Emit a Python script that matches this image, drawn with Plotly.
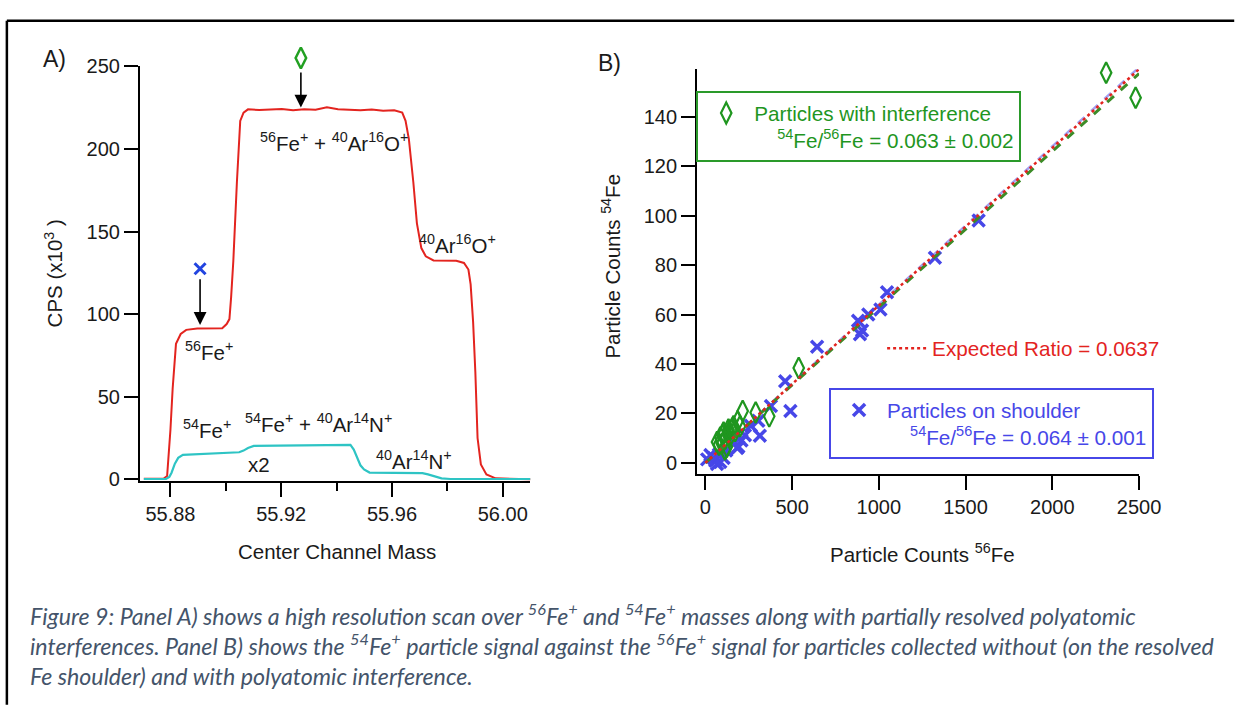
import plotly.graph_objects as go

W, H = 1244, 707
def fx(p): return p / W
def fy(p): return 1 - p / H

# ---------------- Panel A data ----------------
red_mass = [55.8704, 55.8776, 55.8788, 55.8792, 55.8800, 55.8808, 55.8820, 55.8837, 55.8857,
            55.8897, 55.8958, 55.8987, 55.9003, 55.9013, 55.9019, 55.9027, 55.9040, 55.9052,
            55.9064, 55.9080, 55.9121, 55.9161, 55.9202, 55.9243, 55.9283, 55.9324, 55.9365,
            55.9405, 55.9446, 55.9486, 55.9527, 55.9568, 55.9608, 55.9637, 55.9649, 55.9661,
            55.9677, 55.9690, 55.9706, 55.9722, 55.9750, 55.9832, 55.9860, 55.9876, 55.9884,
            55.9893, 55.9901, 55.9909, 55.9921, 55.9941, 55.9974, 56.0100]
red_cps = [0.3, 0.5, 2, 10, 30, 55, 82, 88, 90.5,
           91.3, 91.2, 91.5, 94, 97, 110, 132, 180, 217,
           222, 224, 223.6, 223.8, 224.2, 223.5, 224.0, 223.7, 225.3,
           224, 223.8, 223.4, 223.9, 223.2, 223.4, 222, 217, 206,
           180, 155, 140, 135, 132.5, 132.3, 131, 127, 118,
           95, 65, 25, 9, 3, 0.6, 0]

cyan_mass = [55.8704, 55.8784, 55.8796, 55.8804, 55.8816, 55.8828, 55.8845, 55.8918, 55.8999,
             55.9048, 55.9064, 55.9080, 55.9101, 55.9202, 55.9324, 55.9405, 55.9450, 55.9462,
             55.9474, 55.9486, 55.9499, 55.9519, 55.9608, 55.9710, 55.9730, 55.9750, 55.9779,
             55.9811, 56.0100]
cyan_cps = [0.2, 0.3, 1.5, 4, 9.5, 13, 14.8, 15.3, 15.9,
            16.4, 17.4, 19, 20.2, 20.3, 20.5, 20.8, 20.8, 18,
            13, 8.5, 6, 4.1, 3.9, 3.7, 3.0, 1.9, 0.6,
            0.2, 0.2]

# marker + arrow positions (mass, CPS)
diamond_pos = (55.9271, 255.1)
diamond_arrow = (225.1, 247.2)
cross_pos = (55.8907, 127.5)
cross_arrow = (93.5, 122.0)

# ---------------- Panel B data ----------------
green_x = [2310, 2480, 538, 215, 290, 368, 186, 162, 133, 105, 86, 67, 114, 143, 171, 124, 95,
           200, 78, 101, 137, 113, 155]
green_y = [157.8, 147.7, 38.4, 21.0, 20.4, 18.8, 16.8, 14.8, 13.5, 12.3, 10.3, 8.4, 9.7, 11.0,
           12.9, 6.5, 7.7, 14.8, 7.3, 11.2, 12.5, 5.4, 13.9]
blue_x = [1575, 1323, 1047, 1009, 939, 880, 903, 891, 644, 460, 490, 378, 305, 314, 262, 228,
          208, 190, 162, 105, 86, 67, 57, 48, 29, 10, 78, 120, 184]
blue_y = [98, 83, 69, 62, 60, 57.5, 53.5, 52, 47, 33, 21, 23, 17, 11, 15, 11.2,
          9, 6.5, 7.7, 2, 0.3, -0.5, 0.8, 2, 3.2, 1.4, 3.4, 5, 6]
fit_x = [0, 2500]
expected_y = [0, 159.25]
green_fit_y = [0, 157.5]
blue_fit_y = [0, 160.0]

RED = "#E3241F"
CYAN = "#2EC4C4"
GREEN = "#1F961F"
BLUE = "#4747E8"
FONT = "Liberation Sans, Arial, sans-serif"
TXT = "#1a1a1a"

# panel A geometry (pixels)
A_TOP, A_BOT = 57, 484
A_YMIN, A_YMAX = -1.2, 250
a_scale = (A_BOT - A_TOP) / (A_YMAX - A_YMIN)
OV_TOP = 25
ov_max = A_YMIN + (A_BOT - OV_TOP) / a_scale

fig = go.Figure()

fig.add_trace(go.Scatter(x=red_mass, y=red_cps, mode="lines", line=dict(color=RED, width=2),
                         showlegend=False, xaxis="x", yaxis="y"))
fig.add_trace(go.Scatter(x=cyan_mass, y=cyan_cps, mode="lines", line=dict(color=CYAN, width=2.2),
                         showlegend=False, xaxis="x", yaxis="y"))
fig.add_trace(go.Scatter(x=[cross_pos[0]], y=[cross_pos[1]], mode="markers",
                         marker=dict(symbol="x-thin", size=11, color="#2244E0",
                                     line=dict(width=3, color="#2244E0")),
                         cliponaxis=False, showlegend=False, xaxis="x", yaxis="y"))
fig.add_trace(go.Scatter(x=[diamond_pos[0]], y=[diamond_pos[1]], mode="markers",
                         marker=dict(symbol="diamond-tall-open", size=15, color="#22A022",
                                     line=dict(width=2.5, color="#22A022")),
                         cliponaxis=False, showlegend=False, xaxis="x", yaxis="y3"))

# Panel B
fig.add_trace(go.Scatter(x=blue_x, y=blue_y, mode="markers",
                         name="Particles on shoulder<br>" + "\u00a0" * 4 +
                              "<sup>54</sup>Fe/<sup>56</sup>Fe = 0.064 ± 0.001",
                         marker=dict(symbol="x-thin", size=12, color=BLUE, line=dict(width=3.5, color=BLUE)),
                         cliponaxis=False, legend="legend3", xaxis="x2", yaxis="y2"))
fig.add_trace(go.Scatter(x=green_x, y=green_y, mode="markers",
                         name="Particles with interference<br>" + "\u00a0" * 4 +
                              "<sup>54</sup>Fe/<sup>56</sup>Fe = 0.063 ± 0.002",
                         marker=dict(symbol="diamond-tall-open", size=15, color=GREEN,
                                     line=dict(width=2.2, color=GREEN)),
                         cliponaxis=False, legend="legend", xaxis="x2", yaxis="y2"))
fig.add_trace(go.Scatter(x=fit_x, y=blue_fit_y, mode="lines", line=dict(color=BLUE, width=2.5, dash="dash"),
                         showlegend=False, xaxis="x2", yaxis="y2", opacity=0.5))
fig.add_trace(go.Scatter(x=fit_x, y=green_fit_y, mode="lines", line=dict(color="#3C8C28", width=3, dash="dash"),
                         showlegend=False, xaxis="x2", yaxis="y2"))
fig.add_trace(go.Scatter(x=fit_x, y=expected_y, mode="lines", line=dict(color=RED, width=2.5, dash="dot"),
                         name="Expected Ratio = 0.0637", legend="legend2", xaxis="x2", yaxis="y2"))

axis_common = dict(showline=True, linewidth=2, linecolor="black", ticks="outside", ticklen=14,
                   tickwidth=2, tickcolor="black", showgrid=False, zeroline=False,
                   tickfont=dict(family=FONT, size=20, color=TXT))

fig.update_layout(
    width=W, height=H, margin=dict(l=0, r=0, t=0, b=0),
    paper_bgcolor="white", plot_bgcolor="rgba(0,0,0,0)",
    font=dict(family=FONT, size=20, color=TXT),
    xaxis=dict(domain=[fx(142.5), fx(540)], range=[55.8690, 56.0100], tick0=55.88, dtick=0.04,
               tickformat=".2f", anchor="y",
               minor=dict(tick0=55.88, dtick=0.02, ticks="outside", ticklen=8, tickwidth=2,
                          tickcolor="black"),
               **axis_common),
    yaxis=dict(domain=[fy(A_BOT), fy(A_TOP)], range=[A_YMIN, A_YMAX], tick0=0, dtick=50, anchor="x",
               **axis_common),
    yaxis3=dict(domain=[fy(A_BOT), fy(OV_TOP)], range=[A_YMIN, ov_max], anchor="x", visible=False,
                showgrid=False, zeroline=False),
    xaxis2=dict(domain=[fx(709.6), fx(1159.6)], range=[-48, 2500], tick0=0, dtick=500, anchor="y2",
                **axis_common),
    yaxis2=dict(domain=[fy(476.7), fy(60)], range=[-4.6, 159.2], tick0=0, dtick=20, anchor="x2",
                **axis_common),
    legend=dict(x=fx(708.75), y=fy(82.3), xanchor="left", yanchor="top", bgcolor="white",
                bordercolor="#2A9A2A", borderwidth=2, font=dict(family=FONT, size=20.7, color=GREEN),
                itemwidth=46, valign="top"),
    legend2=dict(x=fx(898), y=fy(347), xanchor="left", yanchor="middle", bgcolor="rgba(0,0,0,0)",
                 borderwidth=0, font=dict(family=FONT, size=20.7, color=RED), itemwidth=40),
    legend3=dict(x=fx(844), y=fy(388), xanchor="left", yanchor="top", bgcolor="white",
                 bordercolor=BLUE, borderwidth=2, font=dict(family=FONT, size=20.7, color=BLUE),
                 itemwidth=46, valign="top"),
)

ann = []
def a_data(text, x, y, size=20.5):
    ann.append(dict(text=text, x=x, y=y, xref="x", yref="y", showarrow=False,
                    font=dict(family=FONT, size=size, color=TXT)))

a_data("<sup>56</sup>Fe<sup>+</sup> + <sup>40</sup>Ar<sup>16</sup>O<sup>+</sup>", 55.9391, 204.3)
a_data("<sup>40</sup>Ar<sup>16</sup>O<sup>+</sup>", 55.9836, 142.5)
a_data("<sup>56</sup>Fe<sup>+</sup>", 55.8941, 77.8)
a_data("<sup>54</sup>Fe<sup>+</sup>", 55.8933, 30.5)
a_data("<sup>54</sup>Fe<sup>+</sup> + <sup>40</sup>Ar<sup>14</sup>N<sup>+</sup>", 55.9334, 34.0)
a_data("x2", 55.9118, 9.0)
a_data("<sup>40</sup>Ar<sup>14</sup>N<sup>+</sup>", 55.9680, 11.5)

# arrows
for (mx, _), (tip, tail) in [(diamond_pos, diamond_arrow), (cross_pos, cross_arrow)]:
    ann.append(dict(x=mx, y=tip, ax=mx, ay=tail, xref="x", yref="y", axref="x", ayref="y",
                    text="", showarrow=True, arrowhead=2, arrowsize=1.6, arrowwidth=1.6,
                    arrowcolor="black"))

def a_paper(text, x, y, size=20.5, angle=0, xanchor="center", color=TXT, yanchor="middle"):
    ann.append(dict(text=text, x=fx(x), y=fy(y), xref="paper", yref="paper", showarrow=False,
                    textangle=angle, xanchor=xanchor, yanchor=yanchor,
                    font=dict(family=FONT, size=size, color=color)))

a_paper("A)", 55, 49, size=23)
a_paper("B)", 620, 53, size=23)
a_paper("CPS (x10<sup>3</sup> )", 55, 270, angle=-90)
a_paper("Center Channel Mass", 343, 556)
a_paper("Particle Counts <sup>54</sup>Fe", 622, 263, angle=-90)
a_paper("Particle Counts <sup>56</sup>Fe", 939, 558)

cap_lines = [
    "Figure 9: Panel A) shows a high resolution scan over <sup>56</sup>Fe<sup>+</sup> and "
    "<sup>54</sup>Fe<sup>+</sup> masses along with partially resolved polyatomic",
    "interferences. Panel B) shows the <sup>54</sup>Fe<sup>+</sup> particle signal against the "
    "<sup>56</sup>Fe<sup>+</sup> signal for particles collected without (on the resolved",
    "Fe shoulder) and with polyatomic interference.",
]
ann.append(dict(text="<br>".join("<i>" + l + "</i>" for l in cap_lines),
                x=fx(29), y=fy(652), xref="paper", yref="paper", showarrow=False,
                xanchor="left", yanchor="middle", align="left",
                font=dict(family="Lato, sans-serif", size=23.2, color="#44546A")))

fig.update_layout(annotations=ann)

fig.update_layout(shapes=[
    dict(type="line", xref="paper", yref="paper", x0=fx(7), x1=1.01, y0=fy(10), y1=fy(10),
         line=dict(color="black", width=2.5)),
    dict(type="line", xref="paper", yref="paper", x0=fx(7), x1=fx(7), y0=fy(10), y1=-0.01,
         line=dict(color="black", width=2.5)),
])

fig.write_html("out.html", config={"displayModeBar": False},
               post_script="document.body.style.margin='0px';document.body.style.overflow='hidden';")
